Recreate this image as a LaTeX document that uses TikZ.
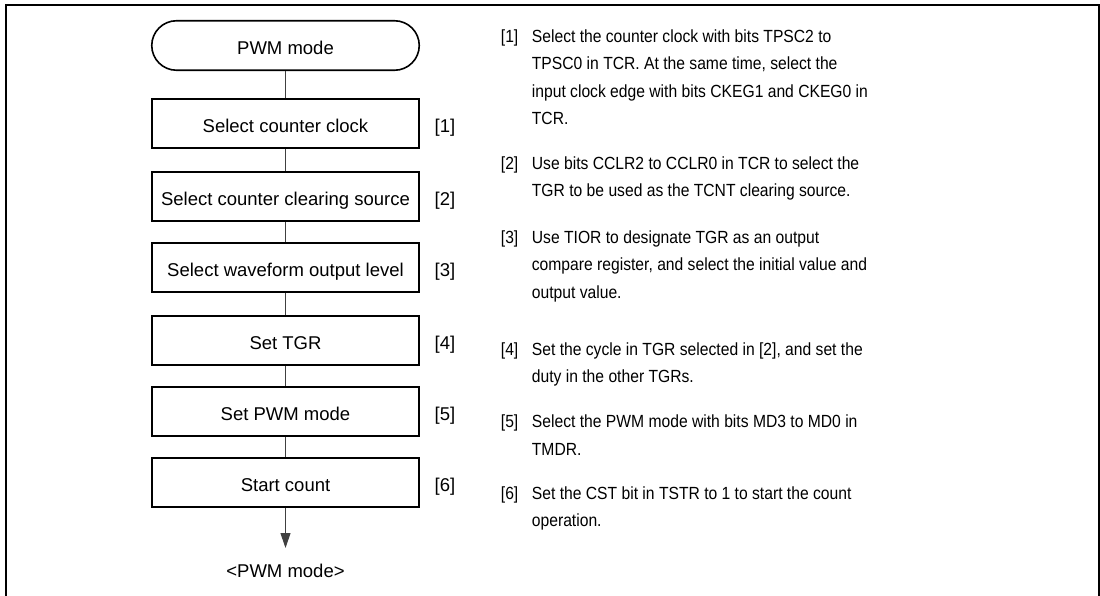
\documentclass[tikz,border=0pt]{standalone}
\usepackage{fontspec}
\setmainfont{Liberation Sans}
\newfontfamily\descfont[FakeStretch=0.89]{Liberation Sans}
\usetikzlibrary{shapes.misc,arrows.meta}
\tikzset{
  boxfont/.style={font=\fontsize{18.5}{22}\selectfont},
  stepbox/.style={draw=black, line width=2pt, minimum width=267pt, minimum height=49pt,
    inner sep=0pt, text height=18pt, text depth=0pt, boxfont},
  termbox/.style={draw=black, line width=1.6pt, rounded rectangle, minimum width=267.5pt,
    minimum height=49.5pt, inner sep=0pt, text height=18pt, text depth=0pt, boxfont},
  steplabel/.style={inner sep=0pt, text height=18pt, text depth=0pt, boxfont},
  link/.style={draw=black!75, line width=1.1pt},
  desc/.style={anchor=base west, inner sep=0pt, font=\descfont\fontsize{17.6}{22}\selectfont},
}
\begin{document}
\begin{tikzpicture}[x=1pt,y=-1pt]
\useasboundingbox (0,0) rectangle (1100,596);
% frame
\draw[line width=2pt] (6,596) -- (6,5) -- (1099,5) -- (1099,596);

% flowchart
\node[termbox] (t0) at (285.5,45.5) {PWM mode};
\node[stepbox] (b1) at (285.5,124) {Select counter clock};
\node[stepbox] (b2) at (285.5,197) {Select counter clearing source};
\node[stepbox] (b3) at (285.5,267) {Select waveform output level};
\node[stepbox] (b4) at (285.5,340.5) {Set TGR};
\node[stepbox] (b5) at (285.5,411.5) {Set PWM mode};
\node[stepbox] (b6) at (285.5,482.5) {Start count};

\node[steplabel] (l1) at (445,124) {[1]};
\node[steplabel] (l2) at (445,197) {[2]};
\node[steplabel] (l3) at (445,267) {[3]};
\node[steplabel] (l4) at (445,340.5) {[4]};
\node[steplabel] (l5) at (445,411.5) {[5]};
\node[steplabel] (l6) at (445,482.5) {[6]};

\draw[link] (t0) -- (b1);
\draw[link] (b1) -- (b2);
\draw[link] (b2) -- (b3);
\draw[link] (b3) -- (b4);
\draw[link] (b4) -- (b5);
\draw[link] (b5) -- (b6);
\coordinate (aend) at (285.5,548);
\draw[link, -{Triangle[length=15pt,width=10pt]}] (b6) -- (aend);
\node[anchor=base, inner sep=0pt, boxfont] (endt) at (285.5,577.3) {<PWM mode>};

% descriptions
\node[desc] (n1) at (500.7,42.5) {[1]};
\node[desc] (d1a) at (531.7,42.5) {Select the counter clock with bits TPSC2 to};
\node[desc] (d1b) at (531.7,70) {TPSC0 in TCR. At the same time, select the};
\node[desc] (d1c) at (531.7,97.5) {input clock edge with bits CKEG1 and CKEG0 in};
\node[desc] (d1d) at (531.7,125) {TCR.};

\node[desc] (n2) at (500.7,169.2) {[2]};
\node[desc] (d2a) at (531.7,169.2) {Use bits CCLR2 to CCLR0 in TCR to select the};
\node[desc] (d2b) at (531.7,196.7) {TGR to be used as the TCNT clearing source.};

\node[desc] (n3) at (500.7,243.3) {[3]};
\node[desc] (d3a) at (531.7,243.3) {Use TIOR to designate TGR as an output};
\node[desc] (d3b) at (531.7,270.8) {compare register, and select the initial value and};
\node[desc] (d3c) at (531.7,298.3) {output value.};

\node[desc] (n4) at (500.7,355) {[4]};
\node[desc] (d4a) at (531.7,355) {Set the cycle in TGR selected in [2], and set the};
\node[desc] (d4b) at (531.7,382.5) {duty in the other TGRs.};

\node[desc] (n5) at (500.7,427.7) {[5]};
\node[desc] (d5a) at (531.7,427.7) {Select the PWM mode with bits MD3 to MD0 in};
\node[desc] (d5b) at (531.7,455.2) {TMDR.};

\node[desc] (n6) at (500.7,499.3) {[6]};
\node[desc] (d6a) at (531.7,499.3) {Set the CST bit in TSTR to 1 to start the count};
\node[desc] (d6b) at (531.7,526.8) {operation.};
\end{tikzpicture}
\end{document}
